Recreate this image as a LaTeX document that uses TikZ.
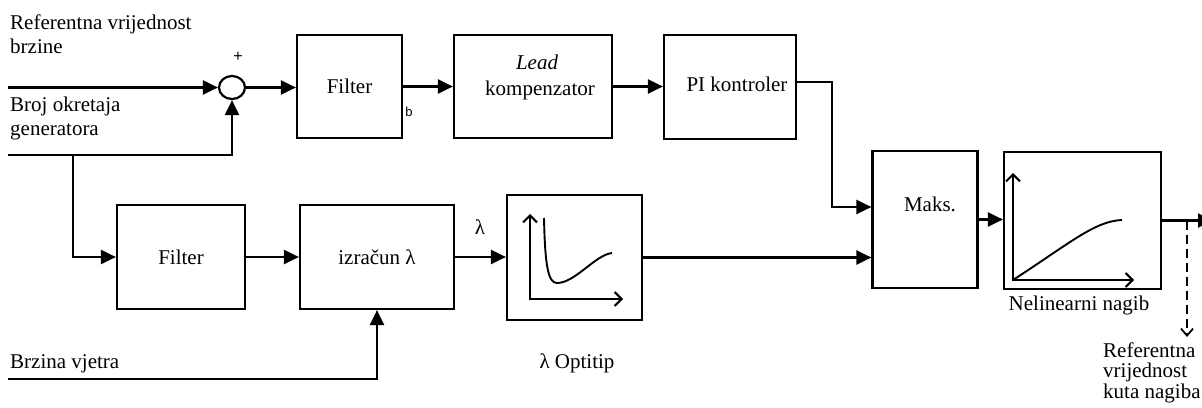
\documentclass[tikz,border=0pt]{standalone}
\usepackage{fontspec}
\setmainfont{Liberation Serif}
\newfontfamily\sansf{Liberation Sans}
\usetikzlibrary{arrows.meta,shapes.geometric}
\begin{document}
\begin{tikzpicture}[x=1pt,y=-1pt,
  lbl/.style={font=\fontsize{21}{24}\selectfont,inner sep=0pt},
  box/.style={draw,line width=2.2pt,inner sep=0pt,font=\fontsize{21}{24}\selectfont},
  conn/.style={line width=2.2pt},
  arr/.style={conn,-{Triangle[length=15pt,width=14pt]}},
  axis/.style={line width=2pt,{Straight Barb[length=7pt,width=14pt]}-{Straight Barb[length=7pt,width=14pt]}},
  crv/.style={line width=1.9pt},
  dashline/.style={line width=1.8pt,dash pattern=on 9pt off 5pt,-{Straight Barb[length=7pt,width=12pt]}}]
\clip (0,0) rectangle (1202,407);
% boxes
\node[box,minimum width=105pt,minimum height=103pt] (filt1) at (349.5,86.5) {Filter};
\node[box,minimum width=158pt,minimum height=103pt] (lead) at (533,86.5) {};
\node[lbl,anchor=base] (leadA) at (537,69) {\itshape Lead};
\node[lbl,anchor=base] (leadB) at (540,95) {kompenzator};
\node[box,minimum width=132pt,minimum height=104pt] (pi) at (730,87) {};
\node[lbl,anchor=base] (pitxt) at (737,91) {PI kontroler};
\node[box,minimum width=105pt,minimum height=137pt] (maks) at (925,219.5) {};
\node[lbl,anchor=base] (makstxt) at (930,211) {Maks.};
\node[box,minimum width=157pt,minimum height=137pt] (nl) at (1082.5,220.5) {};
\node[box,minimum width=128pt,minimum height=104pt] (filt2) at (181,257) {Filter};
\node[box,minimum width=154pt,minimum height=104pt] (izr) at (377,257) {izračun λ};
\node[box,minimum width=135pt,minimum height=125pt] (opt) at (574.5,257.5) {};
\node[draw,ellipse,line width=2.2pt,minimum width=26pt,minimum height=23pt,inner sep=0pt] (sum) at (232,87.5) {};
% coordinates
\coordinate (in1) at (8,87.5);
\coordinate (in2) at (8,155);
\coordinate (br) at (73,155);
\coordinate (in3) at (8,379);
\coordinate (out) at (1213,220.5);
\coordinate (tap) at (1187,220.5);
\coordinate (dend) at (1187,337);
% connectors
\draw[arr] (in1) -- (sum.west);
\draw[arr] (in2) -| (sum.south);
\draw[arr] (br) |- (filt2.west);
\draw[arr] (sum.east) -- (sum.east -| filt1.west);
\draw[arr] (filt1.east) -- (filt1.east -| lead.west);
\draw[arr] (lead.east) -- (lead.east -| pi.west);
\draw[arr] ([yshift=5pt]pi.east) -- ++(35,0) |- ([yshift=12.5pt]maks.west);
\draw[arr] (opt.east) -- (opt.east -| maks.west);
\draw[arr] (maks.east) -- (maks.east -| nl.west);
\draw[arr] (filt2.east) -- (filt2.east -| izr.west);
\draw[arr] (izr.east) -- (izr.east -| opt.west);
\draw[arr] (in3) -| (izr.south);
\draw[arr] (nl.east) -- (out);
\draw[dashline] (tap) -- (dend);
% graphs
\draw[axis] (530,214) -- (530,299) -- (623,299);
\draw[crv] (544,218) .. controls (545,265) and (548,283) .. (557,283) .. controls (575,283) and (595,255) .. (612,253);
\draw[axis] (1013,173) -- (1013,280) -- (1134,280);
\draw[crv] (1013,280) .. controls (1070,243) and (1095,221) .. (1122,220);
% labels
\node[lbl,anchor=base west] (t1) at (10,29) {Referentna vrijednost};
\node[lbl,anchor=base west] (t2) at (10,53) {brzine};
\node[lbl,anchor=base west] (t3) at (10,111) {Broj okretaja};
\node[lbl,anchor=base west] (t4) at (10,135) {generatora};
\node[lbl,anchor=base west] (t5) at (10,368) {Brzina vjetra};
\node[lbl,anchor=base] (lam) at (480,234) {λ};
\node[lbl,anchor=base] (optl) at (577,368) {λ Optitip};
\node[lbl,anchor=base] (nll) at (1079,310) {Nelinearni nagib};
\node[lbl,anchor=base west] (r1) at (1103,357) {Referentna};
\node[lbl,anchor=base west] (r2) at (1103,377) {vrijednost};
\node[lbl,anchor=base west] (r3) at (1103,398) {kuta nagiba};
\node[inner sep=0pt,font=\sansf\fontsize{16}{18}\selectfont] (plus) at (238,57) {+};
\node[inner sep=0pt,font=\sansf\fontsize{13}{15}\selectfont] (bl) at (409,112) {b};
\end{tikzpicture}
\end{document}
